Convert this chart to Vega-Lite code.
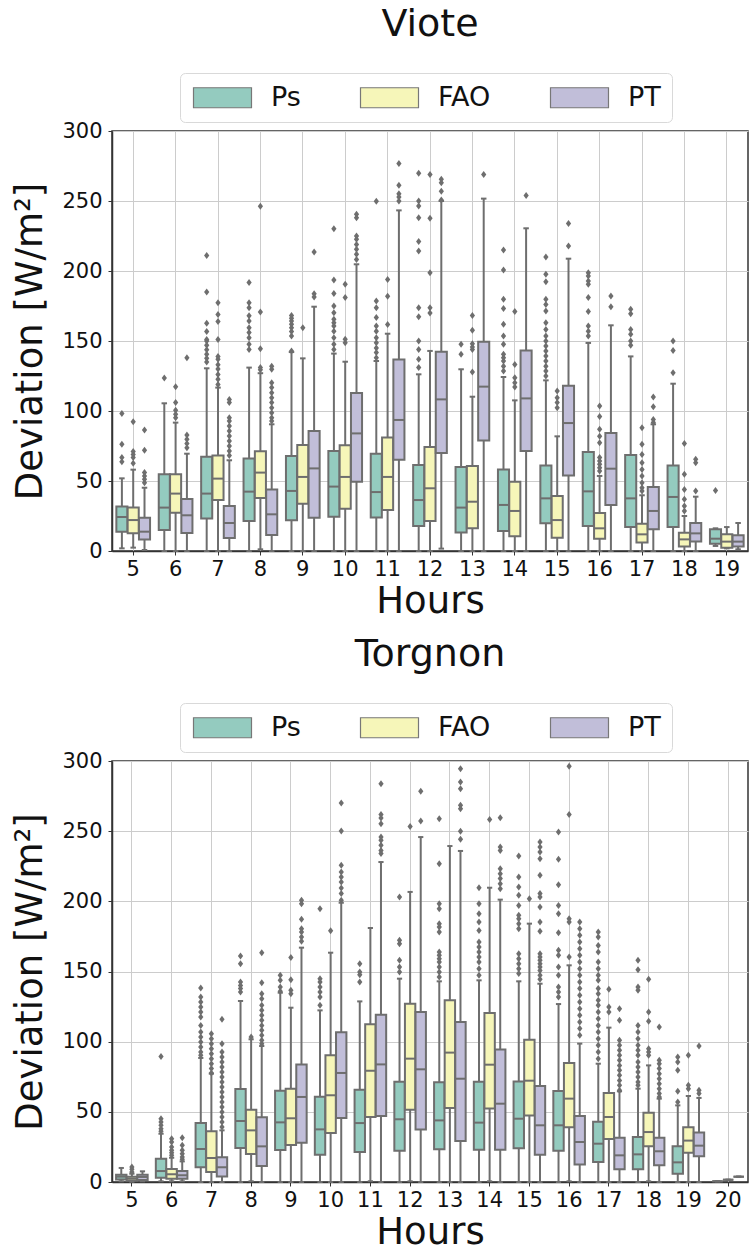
{
"$schema":"https://vega.github.io/schema/vega-lite/v6.json",
"padding":{"left":11,"top":4,"right":0,"bottom":0},
"config":{"font":"DejaVu Sans","view":{"stroke":"#333333","strokeWidth":1.5},
 "axis":{"gridColor":"#cccccc","gridWidth":1,"domainColor":"#333333","domainWidth":1.5,"tickColor":"#333333","tickSize":4,"labelFontSize":21,"labelColor":"#111111","titleFontSize":37,"titleFontWeight":"normal","titleColor":"#111111"},
 "title":{"fontSize":38,"fontWeight":"normal","color":"#111111"},
 "legend":{"orient":"none","direction":"horizontal","legendX":68,"legendY":-58,"fillColor":"white","strokeColor":"#d9d9d9","cornerRadius":5,"padding":11,"labelFontSize":27,"labelColor":"#111111","labelOffset":35,"symbolOffset":18,"columnPadding":57,"symbolType":"M-2.9,-1H2.9V1H-2.9Z","symbolSize":400,"symbolStrokeColor":"#777777","symbolStrokeWidth":1.2}},
"resolve":{"scale":{"fill":"independent","x":"independent","xOffset":"independent"},"legend":{"fill":"independent"}},
"spacing":14,
"datasets":{
"vb":[
{"h":5,"m":"Ps","lo":1.9,"q1":13.8,"md":24.3,"q3":31.7,"hi":51.9},{"h":5,"m":"FAO","lo":2.4,"q1":12.6,"md":22.1,"q3":31,"hi":58.1},{"h":5,"m":"PT","lo":0.7,"q1":8.3,"md":13.8,"q3":23.8,"hi":45.2},
{"h":6,"m":"Ps","lo":0,"q1":15,"md":31,"q3":54.8,"hi":105.5},{"h":6,"m":"FAO","lo":0,"q1":27.4,"md":41,"q3":54.8,"hi":91.7},{"h":6,"m":"PT","lo":0,"q1":12.9,"md":25.5,"q3":37.1,"hi":69.5},
{"h":7,"m":"Ps","lo":0,"q1":23.3,"md":41,"q3":67.4,"hi":130.5},{"h":7,"m":"FAO","lo":0,"q1":36.4,"md":51.7,"q3":68.3,"hi":116.7},{"h":7,"m":"PT","lo":0,"q1":9.3,"md":20,"q3":32.1,"hi":64.8},
{"h":8,"m":"Ps","lo":0,"q1":21.4,"md":42.4,"q3":66,"hi":131},{"h":8,"m":"FAO","lo":1.2,"q1":37.9,"md":56,"q3":71.2,"hi":127},{"h":8,"m":"PT","lo":0,"q1":11.4,"md":26.2,"q3":44,"hi":90.5},
{"h":9,"m":"Ps","lo":0,"q1":21.9,"md":42.9,"q3":67.9,"hi":142.1},{"h":9,"m":"FAO","lo":0,"q1":33.8,"md":52.9,"q3":75.7,"hi":137.6},{"h":9,"m":"PT","lo":0,"q1":23.8,"md":59,"q3":85.7,"hi":174.5},
{"h":10,"m":"Ps","lo":0,"q1":24.5,"md":46,"q3":71.4,"hi":141},{"h":10,"m":"FAO","lo":0,"q1":30.2,"md":52.9,"q3":75.5,"hi":135.2},{"h":10,"m":"PT","lo":0,"q1":49.5,"md":84,"q3":112.9,"hi":204.8},
{"h":11,"m":"Ps","lo":0,"q1":24,"md":42.1,"q3":69.5,"hi":135.7},{"h":11,"m":"FAO","lo":0,"q1":29.3,"md":52.9,"q3":81,"hi":155.2},{"h":11,"m":"PT","lo":0,"q1":65.2,"md":93.6,"q3":136.7,"hi":243.3},
{"h":12,"m":"Ps","lo":0,"q1":17.9,"md":36.4,"q3":61.4,"hi":126.2},{"h":12,"m":"FAO","lo":0,"q1":21.4,"md":44.8,"q3":74.3,"hi":142.9},{"h":12,"m":"PT","lo":1.7,"q1":70,"md":108.3,"q3":142.4,"hi":250},
{"h":13,"m":"Ps","lo":0,"q1":13.3,"md":31,"q3":60,"hi":129.8},{"h":13,"m":"FAO","lo":0,"q1":16.2,"md":35.2,"q3":60.7,"hi":110.2},{"h":13,"m":"PT","lo":0,"q1":79,"md":117.4,"q3":149.5,"hi":251.7},
{"h":14,"m":"Ps","lo":0,"q1":14.3,"md":32.9,"q3":58.3,"hi":124.3},{"h":14,"m":"FAO","lo":0,"q1":10.5,"md":28.6,"q3":49.5,"hi":107.6},{"h":14,"m":"PT","lo":0,"q1":71.4,"md":109,"q3":143.3,"hi":230.5},
{"h":15,"m":"Ps","lo":0,"q1":19.8,"md":37.6,"q3":61,"hi":121.9},{"h":15,"m":"FAO","lo":0,"q1":9.5,"md":22.1,"q3":39.3,"hi":81.9},{"h":15,"m":"PT","lo":0,"q1":54,"md":91.4,"q3":118.1,"hi":208.8},
{"h":16,"m":"Ps","lo":0,"q1":17.9,"md":42.6,"q3":70.7,"hi":148.6},{"h":16,"m":"FAO","lo":0,"q1":8.8,"md":16.2,"q3":27.1,"hi":53.6},{"h":16,"m":"PT","lo":0,"q1":32.9,"md":58.8,"q3":84.3,"hi":161.2},
{"h":17,"m":"Ps","lo":0,"q1":17.1,"md":37.6,"q3":68.6,"hi":139},{"h":17,"m":"FAO","lo":0,"q1":6,"md":11.9,"q3":19.5,"hi":39.8},{"h":17,"m":"PT","lo":0,"q1":15.5,"md":28.6,"q3":45.7,"hi":90.5},
{"h":18,"m":"Ps","lo":0,"q1":17.1,"md":38.6,"q3":61,"hi":119.5},{"h":18,"m":"FAO","lo":0,"q1":3.3,"md":8.3,"q3":13.1,"hi":25},{"h":18,"m":"PT","lo":0,"q1":6.7,"md":12.6,"q3":20,"hi":38.8},
{"h":19,"m":"Ps","lo":3.6,"q1":5.2,"md":8.8,"q3":15.5,"hi":16.2},{"h":19,"m":"FAO","lo":1.9,"q1":2.4,"md":6.7,"q3":11.9,"hi":17.1},{"h":19,"m":"PT","lo":1.2,"q1":3.3,"md":6.7,"q3":11.2,"hi":20}
],
"vo":[
{"h":5,"m":"Ps","v":98.3},{"h":5,"m":"Ps","v":76.2},{"h":5,"m":"Ps","v":66.7},{"h":5,"m":"Ps","v":63.8},
{"h":5,"m":"FAO","v":92.4},{"h":5,"m":"FAO","v":71},{"h":5,"m":"FAO","v":69},{"h":5,"m":"FAO","v":66.7},{"h":5,"m":"FAO","v":62.6},
{"h":5,"m":"PT","v":86.4},{"h":5,"m":"PT","v":71.9},{"h":5,"m":"PT","v":56},{"h":5,"m":"PT","v":53.6},{"h":5,"m":"PT","v":51.2},{"h":5,"m":"PT","v":48.8},
{"h":6,"m":"Ps","v":123.6},
{"h":6,"m":"FAO","v":117.4},{"h":6,"m":"FAO","v":106},{"h":6,"m":"FAO","v":100.5},{"h":6,"m":"FAO","v":97.6},{"h":6,"m":"FAO","v":95.2},
{"h":6,"m":"PT","v":138.1},{"h":6,"m":"PT","v":82.9},{"h":6,"m":"PT","v":79.8},{"h":6,"m":"PT","v":76.7},{"h":6,"m":"PT","v":73.8},
{"h":7,"m":"Ps","v":211},{"h":7,"m":"Ps","v":185},{"h":7,"m":"Ps","v":162.6},{"h":7,"m":"Ps","v":156.7},{"h":7,"m":"Ps","v":151},{"h":7,"m":"Ps","v":150},{"h":7,"m":"Ps","v":147},{"h":7,"m":"Ps","v":143.8},{"h":7,"m":"Ps","v":140.5},{"h":7,"m":"Ps","v":137.6},{"h":7,"m":"Ps","v":135},
{"h":7,"m":"FAO","v":177.4},{"h":7,"m":"FAO","v":169},{"h":7,"m":"FAO","v":164},{"h":7,"m":"FAO","v":151},{"h":7,"m":"FAO","v":139},{"h":7,"m":"FAO","v":137},{"h":7,"m":"FAO","v":133},{"h":7,"m":"FAO","v":130},{"h":7,"m":"FAO","v":126},{"h":7,"m":"FAO","v":122.6},{"h":7,"m":"FAO","v":119},
{"h":7,"m":"PT","v":108.3},{"h":7,"m":"PT","v":106},{"h":7,"m":"PT","v":95.2},{"h":7,"m":"PT","v":92.9},{"h":7,"m":"PT","v":89.3},{"h":7,"m":"PT","v":85.7},{"h":7,"m":"PT","v":82.1},{"h":7,"m":"PT","v":78.6},{"h":7,"m":"PT","v":75},{"h":7,"m":"PT","v":71.4},{"h":7,"m":"PT","v":68.3},
{"h":8,"m":"Ps","v":191.7},{"h":8,"m":"Ps","v":177.4},{"h":8,"m":"Ps","v":173.8},{"h":8,"m":"Ps","v":168},{"h":8,"m":"Ps","v":164.3},{"h":8,"m":"Ps","v":159.5},{"h":8,"m":"Ps","v":156},{"h":8,"m":"Ps","v":152.4},{"h":8,"m":"Ps","v":147.6},{"h":8,"m":"Ps","v":144},
{"h":8,"m":"FAO","v":246.2},{"h":8,"m":"FAO","v":170.7},{"h":8,"m":"FAO","v":144.5},{"h":8,"m":"FAO","v":131},{"h":8,"m":"FAO","v":129.5},
{"h":8,"m":"PT","v":131.9},{"h":8,"m":"PT","v":129.8},{"h":8,"m":"PT","v":120.2},{"h":8,"m":"PT","v":116.7},{"h":8,"m":"PT","v":113},{"h":8,"m":"PT","v":109.5},{"h":8,"m":"PT","v":106},{"h":8,"m":"PT","v":102.4},{"h":8,"m":"PT","v":98.8},{"h":8,"m":"PT","v":95.2},{"h":8,"m":"PT","v":92.9},
{"h":9,"m":"Ps","v":168.3},{"h":9,"m":"Ps","v":166.2},{"h":9,"m":"Ps","v":164.3},{"h":9,"m":"Ps","v":161.9},{"h":9,"m":"Ps","v":159.5},{"h":9,"m":"Ps","v":156.7},{"h":9,"m":"Ps","v":153.6},{"h":9,"m":"Ps","v":142.9},
{"h":9,"m":"FAO","v":159.5},
{"h":9,"m":"PT","v":213.6},{"h":9,"m":"PT","v":183.8},{"h":9,"m":"PT","v":181.4},
{"h":10,"m":"Ps","v":230.2},{"h":10,"m":"Ps","v":193.6},{"h":10,"m":"Ps","v":184},{"h":10,"m":"Ps","v":175},{"h":10,"m":"Ps","v":170.2},{"h":10,"m":"Ps","v":165.5},{"h":10,"m":"Ps","v":163},{"h":10,"m":"Ps","v":160.7},{"h":10,"m":"Ps","v":157},{"h":10,"m":"Ps","v":152.4},{"h":10,"m":"Ps","v":147.6},{"h":10,"m":"Ps","v":144},
{"h":10,"m":"FAO","v":190.5},{"h":10,"m":"FAO","v":181},{"h":10,"m":"FAO","v":151.2},{"h":10,"m":"FAO","v":148.8},
{"h":10,"m":"PT","v":240.5},{"h":10,"m":"PT","v":238},{"h":10,"m":"PT","v":225},{"h":10,"m":"PT","v":222.6},{"h":10,"m":"PT","v":219},{"h":10,"m":"PT","v":215.5},{"h":10,"m":"PT","v":212},{"h":10,"m":"PT","v":208.3},
{"h":11,"m":"Ps","v":249.8},{"h":11,"m":"Ps","v":178.6},{"h":11,"m":"Ps","v":173.8},{"h":11,"m":"Ps","v":166.7},{"h":11,"m":"Ps","v":160.7},{"h":11,"m":"Ps","v":157},{"h":11,"m":"Ps","v":152.4},{"h":11,"m":"Ps","v":148.8},{"h":11,"m":"Ps","v":145},{"h":11,"m":"Ps","v":141.7},{"h":11,"m":"Ps","v":138.1},
{"h":11,"m":"FAO","v":194},{"h":11,"m":"FAO","v":182},{"h":11,"m":"FAO","v":161.7},
{"h":11,"m":"PT","v":276.7},{"h":11,"m":"PT","v":261.2},{"h":11,"m":"PT","v":255.2},{"h":11,"m":"PT","v":252.9},{"h":11,"m":"PT","v":250},
{"h":12,"m":"Ps","v":269.8},{"h":12,"m":"Ps","v":250},{"h":12,"m":"Ps","v":246.4},{"h":12,"m":"Ps","v":238},{"h":12,"m":"Ps","v":221},{"h":12,"m":"Ps","v":214.3},{"h":12,"m":"Ps","v":173.8},{"h":12,"m":"Ps","v":167.4},{"h":12,"m":"Ps","v":150},{"h":12,"m":"Ps","v":144},{"h":12,"m":"Ps","v":137},{"h":12,"m":"Ps","v":131},
{"h":12,"m":"FAO","v":269},{"h":12,"m":"FAO","v":237.6},{"h":12,"m":"FAO","v":198.8},{"h":12,"m":"FAO","v":173.8},{"h":12,"m":"FAO","v":170},
{"h":12,"m":"PT","v":265.5},{"h":12,"m":"PT","v":263},{"h":12,"m":"PT","v":257},{"h":12,"m":"PT","v":250.7},
{"h":13,"m":"Ps","v":147.6},{"h":13,"m":"Ps","v":140.5},
{"h":13,"m":"FAO","v":168.3},{"h":13,"m":"FAO","v":157.6},{"h":13,"m":"FAO","v":148},{"h":13,"m":"FAO","v":145.7},{"h":13,"m":"FAO","v":144},{"h":13,"m":"FAO","v":127.9},
{"h":13,"m":"PT","v":269},
{"h":14,"m":"Ps","v":215},{"h":14,"m":"Ps","v":200.7},{"h":14,"m":"Ps","v":179.8},{"h":14,"m":"Ps","v":173.3},{"h":14,"m":"Ps","v":161.9},{"h":14,"m":"Ps","v":153.6},{"h":14,"m":"Ps","v":147.6},{"h":14,"m":"Ps","v":140.5},{"h":14,"m":"Ps","v":138},{"h":14,"m":"Ps","v":135.7},{"h":14,"m":"Ps","v":132},{"h":14,"m":"Ps","v":128.6},
{"h":14,"m":"FAO","v":171},{"h":14,"m":"FAO","v":133.3},{"h":14,"m":"FAO","v":123.8},{"h":14,"m":"FAO","v":120.2},{"h":14,"m":"FAO","v":117.1},
{"h":14,"m":"PT","v":254},
{"h":15,"m":"Ps","v":210},{"h":15,"m":"Ps","v":197.6},{"h":15,"m":"Ps","v":192.4},{"h":15,"m":"Ps","v":179.8},{"h":15,"m":"Ps","v":176},{"h":15,"m":"Ps","v":171.4},{"h":15,"m":"Ps","v":163},{"h":15,"m":"Ps","v":158.3},{"h":15,"m":"Ps","v":153.6},{"h":15,"m":"Ps","v":150},{"h":15,"m":"Ps","v":146.4},{"h":15,"m":"Ps","v":142.9},{"h":15,"m":"Ps","v":139.3},{"h":15,"m":"Ps","v":135.7},{"h":15,"m":"Ps","v":132},{"h":15,"m":"Ps","v":128.6},{"h":15,"m":"Ps","v":125},
{"h":15,"m":"FAO","v":114.3},{"h":15,"m":"FAO","v":109.5},{"h":15,"m":"FAO","v":106},{"h":15,"m":"FAO","v":102.4},
{"h":15,"m":"PT","v":234},{"h":15,"m":"PT","v":217.9},
{"h":16,"m":"Ps","v":198.8},{"h":16,"m":"Ps","v":196.4},{"h":16,"m":"Ps","v":192.9},{"h":16,"m":"Ps","v":190.5},{"h":16,"m":"Ps","v":181},{"h":16,"m":"Ps","v":171},{"h":16,"m":"Ps","v":160.7},{"h":16,"m":"Ps","v":157},{"h":16,"m":"Ps","v":153.6},
{"h":16,"m":"FAO","v":103.6},{"h":16,"m":"FAO","v":96},{"h":16,"m":"FAO","v":87},{"h":16,"m":"FAO","v":82},{"h":16,"m":"FAO","v":77.4},{"h":16,"m":"FAO","v":66.7},{"h":16,"m":"FAO","v":64.3},{"h":16,"m":"FAO","v":61.9},{"h":16,"m":"FAO","v":59.5},{"h":16,"m":"FAO","v":57.1},
{"h":16,"m":"PT","v":182.1},{"h":16,"m":"PT","v":174.5},
{"h":17,"m":"Ps","v":172.6},{"h":17,"m":"Ps","v":169.5},{"h":17,"m":"Ps","v":158.3},{"h":17,"m":"Ps","v":154.8},{"h":17,"m":"Ps","v":150},{"h":17,"m":"Ps","v":147},
{"h":17,"m":"FAO","v":88.1},{"h":17,"m":"FAO","v":76.2},{"h":17,"m":"FAO","v":69},{"h":17,"m":"FAO","v":63},{"h":17,"m":"FAO","v":58.3},{"h":17,"m":"FAO","v":53.6},{"h":17,"m":"FAO","v":48.8},{"h":17,"m":"FAO","v":45.2},{"h":17,"m":"FAO","v":42.9},
{"h":17,"m":"PT","v":110},{"h":17,"m":"PT","v":103.1},{"h":17,"m":"PT","v":94},{"h":17,"m":"PT","v":91.7},
{"h":18,"m":"Ps","v":150},{"h":18,"m":"Ps","v":143.3},{"h":18,"m":"Ps","v":127.4},
{"h":18,"m":"FAO","v":76.7},{"h":18,"m":"FAO","v":54.8},{"h":18,"m":"FAO","v":44},{"h":18,"m":"FAO","v":36.9},{"h":18,"m":"FAO","v":32.1},{"h":18,"m":"FAO","v":28.6},
{"h":18,"m":"PT","v":65.5},{"h":18,"m":"PT","v":63.1},{"h":18,"m":"PT","v":42.9},
{"h":19,"m":"Ps","v":43.3}
],
"tb":[
{"h":5,"m":"Ps","lo":0.5,"q1":1.7,"md":3.8,"q3":5.2,"hi":10},{"h":5,"m":"FAO","lo":0.2,"q1":1,"md":2.4,"q3":3.8,"hi":5.9},{"h":5,"m":"PT","lo":0.5,"q1":1.4,"md":3.6,"q3":5.2,"hi":7.6},
{"h":6,"m":"Ps","lo":0.5,"q1":3.1,"md":7.8,"q3":16.6,"hi":34.4},{"h":6,"m":"FAO","lo":0.5,"q1":2.4,"md":5.5,"q3":9.3,"hi":17.3},{"h":6,"m":"PT","lo":0.5,"q1":2.4,"md":4.8,"q3":7.8,"hi":14.7},
{"h":7,"m":"Ps","lo":0,"q1":10.5,"md":23.5,"q3":42,"hi":88.4},{"h":7,"m":"FAO","lo":0,"q1":7.1,"md":17.1,"q3":36.1,"hi":77.2},{"h":7,"m":"PT","lo":0,"q1":4,"md":10.5,"q3":17.6,"hi":36.8},
{"h":8,"m":"Ps","lo":0,"q1":24.2,"md":43.5,"q3":66.3,"hi":129},{"h":8,"m":"FAO","lo":0.5,"q1":20,"md":36.8,"q3":51.5,"hi":101.7},{"h":8,"m":"PT","lo":0,"q1":11.4,"md":25.4,"q3":46.1,"hi":96.9},
{"h":9,"m":"Ps","lo":0,"q1":22.8,"md":42.5,"q3":65.1,"hi":134.9},{"h":9,"m":"FAO","lo":0,"q1":26.4,"md":45.4,"q3":66.5,"hi":124.2},{"h":9,"m":"PT","lo":0,"q1":28,"md":60.6,"q3":83.8,"hi":167},
{"h":10,"m":"Ps","lo":0,"q1":19.5,"md":37.5,"q3":60.8,"hi":122.3},{"h":10,"m":"FAO","lo":0,"q1":34.9,"md":61.8,"q3":90.3,"hi":163.4},{"h":10,"m":"PT","lo":0,"q1":45.6,"md":77.7,"q3":106.7,"hi":199},
{"h":11,"m":"Ps","lo":0,"q1":21.4,"md":42,"q3":65.8,"hi":128.7},{"h":11,"m":"FAO","lo":0.5,"q1":46.3,"md":79.3,"q3":112.4,"hi":181},{"h":11,"m":"PT","lo":0,"q1":47,"md":83.8,"q3":119.2,"hi":228},
{"h":12,"m":"Ps","lo":0,"q1":22.3,"md":44.7,"q3":71.5,"hi":144.9},{"h":12,"m":"FAO","lo":0.5,"q1":51.5,"md":87.9,"q3":127.1,"hi":206.7},{"h":12,"m":"PT","lo":0,"q1":37.5,"md":80.3,"q3":121.1,"hi":245.8},
{"h":13,"m":"Ps","lo":0,"q1":23.3,"md":43.9,"q3":71,"hi":143},{"h":13,"m":"FAO","lo":0,"q1":52.7,"md":92.2,"q3":129.5,"hi":239.4},{"h":13,"m":"PT","lo":0,"q1":29.2,"md":73.6,"q3":114,"hi":235.9},
{"h":14,"m":"Ps","lo":0,"q1":23,"md":42.3,"q3":71.5,"hi":143.7},{"h":14,"m":"FAO","lo":0.5,"q1":52.3,"md":83.6,"q3":120.4,"hi":209.7},{"h":14,"m":"PT","lo":0,"q1":23,"md":55.8,"q3":94.5,"hi":201.2},
{"h":15,"m":"Ps","lo":0,"q1":24,"md":45.1,"q3":71.7,"hi":143},{"h":15,"m":"FAO","lo":0,"q1":47.3,"md":72.2,"q3":101.4,"hi":184.1},{"h":15,"m":"PT","lo":0,"q1":19.5,"md":40.4,"q3":68.4,"hi":141.3},
{"h":16,"m":"Ps","lo":0,"q1":22.3,"md":40.4,"q3":64.8,"hi":126.8},{"h":16,"m":"FAO","lo":0.5,"q1":39,"md":59.4,"q3":84.8,"hi":154.4},{"h":16,"m":"PT","lo":0,"q1":12.4,"md":28.5,"q3":47,"hi":98.6},
{"h":17,"m":"Ps","lo":0,"q1":14.3,"md":27.3,"q3":43,"hi":84.3},{"h":17,"m":"FAO","lo":0,"q1":30.6,"md":46.3,"q3":63.4,"hi":110},{"h":17,"m":"PT","lo":0,"q1":9,"md":19,"q3":31.6,"hi":64.6},
{"h":18,"m":"Ps","lo":0,"q1":9,"md":19.7,"q3":32.1,"hi":66.5},{"h":18,"m":"FAO","lo":0.5,"q1":25.4,"md":35.6,"q3":49.4,"hi":83.1},{"h":18,"m":"PT","lo":0,"q1":11.9,"md":21.9,"q3":31.6,"hi":59.4},
{"h":19,"m":"Ps","lo":0,"q1":5.9,"md":14,"q3":25.4,"hi":54.6},{"h":19,"m":"FAO","lo":0,"q1":20.9,"md":29.5,"q3":39,"hi":61.3},{"h":19,"m":"PT","lo":0,"q1":18.3,"md":25.9,"q3":35.2,"hi":59.9},
{"h":20,"m":"Ps","lo":0.5,"q1":0.5,"md":0.5,"q3":0.5,"hi":0.5},{"h":20,"m":"FAO","lo":1.6,"q1":1.6,"md":1.6,"q3":1.6,"hi":1.6},{"h":20,"m":"PT","lo":3.8,"q1":3.8,"md":3.8,"q3":3.8,"hi":3.8}
],
"to":[
{"h":5,"m":"FAO","v":10.7},{"h":5,"m":"FAO","v":9},{"h":5,"m":"FAO","v":7.1},
{"h":6,"m":"Ps","v":89.5},{"h":6,"m":"Ps","v":45.1},{"h":6,"m":"Ps","v":42.8},{"h":6,"m":"Ps","v":40.4},{"h":6,"m":"Ps","v":38},{"h":6,"m":"Ps","v":36.1},
{"h":6,"m":"FAO","v":30.9},{"h":6,"m":"FAO","v":28.5},{"h":6,"m":"FAO","v":24.9},{"h":6,"m":"FAO","v":22.6},{"h":6,"m":"FAO","v":20.9},{"h":6,"m":"FAO","v":19},
{"h":6,"m":"PT","v":31.6},{"h":6,"m":"PT","v":26.1},{"h":6,"m":"PT","v":22.6},{"h":6,"m":"PT","v":20.2},{"h":6,"m":"PT","v":17.8},{"h":6,"m":"PT","v":16.2},
{"h":7,"m":"Ps","v":138.2},{"h":7,"m":"Ps","v":131.8},{"h":7,"m":"Ps","v":128.3},{"h":7,"m":"Ps","v":124.7},{"h":7,"m":"Ps","v":121.1},{"h":7,"m":"Ps","v":117.6},{"h":7,"m":"Ps","v":111.6},{"h":7,"m":"Ps","v":106.9},{"h":7,"m":"Ps","v":103.3},{"h":7,"m":"Ps","v":99.8},{"h":7,"m":"Ps","v":96.2},{"h":7,"m":"Ps","v":92.6},{"h":7,"m":"Ps","v":90.3},
{"h":7,"m":"FAO","v":105.7},{"h":7,"m":"FAO","v":102.1},{"h":7,"m":"FAO","v":98.6},{"h":7,"m":"FAO","v":95},{"h":7,"m":"FAO","v":91.4},{"h":7,"m":"FAO","v":87.9},{"h":7,"m":"FAO","v":84.3},{"h":7,"m":"FAO","v":80.8},{"h":7,"m":"FAO","v":77.7},
{"h":7,"m":"PT","v":115.9},{"h":7,"m":"PT","v":98.6},{"h":7,"m":"PT","v":92.6},{"h":7,"m":"PT","v":89.1},{"h":7,"m":"PT","v":85.5},{"h":7,"m":"PT","v":81.9},{"h":7,"m":"PT","v":78.4},{"h":7,"m":"PT","v":74.8},{"h":7,"m":"PT","v":71.3},{"h":7,"m":"PT","v":67.7},{"h":7,"m":"PT","v":64.1},{"h":7,"m":"PT","v":60.6},{"h":7,"m":"PT","v":57},{"h":7,"m":"PT","v":53.4},{"h":7,"m":"PT","v":49.9},{"h":7,"m":"PT","v":46.3},{"h":7,"m":"PT","v":42.8},{"h":7,"m":"PT","v":39.2},
{"h":8,"m":"Ps","v":161},{"h":8,"m":"Ps","v":155.6},{"h":8,"m":"Ps","v":142.5},{"h":8,"m":"Ps","v":140.1},{"h":8,"m":"Ps","v":137.8},{"h":8,"m":"Ps","v":135.4},
{"h":8,"m":"FAO","v":103.3},
{"h":8,"m":"PT","v":163.4},{"h":8,"m":"PT","v":142},{"h":8,"m":"PT","v":134.2},{"h":8,"m":"PT","v":130.6},{"h":8,"m":"PT","v":125.9},{"h":8,"m":"PT","v":122.3},{"h":8,"m":"PT","v":118.8},{"h":8,"m":"PT","v":115.2},{"h":8,"m":"PT","v":111.6},{"h":8,"m":"PT","v":108.1},{"h":8,"m":"PT","v":104.5},{"h":8,"m":"PT","v":101},{"h":8,"m":"PT","v":98.6},
{"h":9,"m":"Ps","v":147.3},{"h":9,"m":"Ps","v":143.7},{"h":9,"m":"Ps","v":139},{"h":9,"m":"Ps","v":136},
{"h":9,"m":"FAO","v":159.9},{"h":9,"m":"FAO","v":144.2},{"h":9,"m":"FAO","v":136.6},{"h":9,"m":"FAO","v":134.2},
{"h":9,"m":"PT","v":200.7},{"h":9,"m":"PT","v":198.3},{"h":9,"m":"PT","v":187.2},{"h":9,"m":"PT","v":180.5},{"h":9,"m":"PT","v":178.1},{"h":9,"m":"PT","v":174.6},{"h":9,"m":"PT","v":171.5},
{"h":10,"m":"Ps","v":194.8},{"h":10,"m":"Ps","v":144.9},{"h":10,"m":"Ps","v":142.5},{"h":10,"m":"Ps","v":139},{"h":10,"m":"Ps","v":135.4},{"h":10,"m":"Ps","v":131.8},{"h":10,"m":"Ps","v":125.9},
{"h":10,"m":"FAO","v":179.1},
{"h":10,"m":"PT","v":270.1},{"h":10,"m":"PT","v":250.1},{"h":10,"m":"PT","v":225.7},{"h":10,"m":"PT","v":220.9},{"h":10,"m":"PT","v":217.3},{"h":10,"m":"PT","v":213.8},{"h":10,"m":"PT","v":209.5},{"h":10,"m":"PT","v":205.5},{"h":10,"m":"PT","v":200.7},
{"h":11,"m":"Ps","v":155.6},{"h":11,"m":"Ps","v":149.6},{"h":11,"m":"Ps","v":147.7},{"h":11,"m":"Ps","v":142.5},
{"h":11,"m":"PT","v":283.8},{"h":11,"m":"PT","v":261.8},{"h":11,"m":"PT","v":259.4},{"h":11,"m":"PT","v":255.3},{"h":11,"m":"PT","v":245.8},{"h":11,"m":"PT","v":243.5},{"h":11,"m":"PT","v":239.9},{"h":11,"m":"PT","v":236.3},{"h":11,"m":"PT","v":234},
{"h":12,"m":"Ps","v":203.1},{"h":12,"m":"Ps","v":172.2},{"h":12,"m":"Ps","v":169.8},{"h":12,"m":"Ps","v":158},{"h":12,"m":"Ps","v":153.2},{"h":12,"m":"Ps","v":149.6},
{"h":12,"m":"FAO","v":253.4},
{"h":12,"m":"PT","v":278.4},{"h":12,"m":"PT","v":257.2},
{"h":13,"m":"Ps","v":258.9},{"h":13,"m":"Ps","v":226.8},{"h":13,"m":"Ps","v":198.3},{"h":13,"m":"Ps","v":194.8},{"h":13,"m":"Ps","v":184.1},{"h":13,"m":"Ps","v":181.7},{"h":13,"m":"Ps","v":178.1},{"h":13,"m":"Ps","v":163.9},{"h":13,"m":"Ps","v":161.5},{"h":13,"m":"Ps","v":159.1},{"h":13,"m":"Ps","v":156.8},{"h":13,"m":"Ps","v":153.2},{"h":13,"m":"Ps","v":149.6},{"h":13,"m":"Ps","v":146},
{"h":13,"m":"PT","v":294.5},{"h":13,"m":"PT","v":285},{"h":13,"m":"PT","v":280.3},{"h":13,"m":"PT","v":268.4},{"h":13,"m":"PT","v":266},{"h":13,"m":"PT","v":249.9},{"h":13,"m":"PT","v":244.2},
{"h":14,"m":"Ps","v":209.7},{"h":14,"m":"Ps","v":198.3},{"h":14,"m":"Ps","v":191.2},{"h":14,"m":"Ps","v":185.3},{"h":14,"m":"Ps","v":179.3},{"h":14,"m":"Ps","v":171},{"h":14,"m":"Ps","v":167.5},{"h":14,"m":"Ps","v":163.9},{"h":14,"m":"Ps","v":160.3},{"h":14,"m":"Ps","v":156.8},{"h":14,"m":"Ps","v":152},{"h":14,"m":"Ps","v":147.3},
{"h":14,"m":"FAO","v":258.4},
{"h":14,"m":"PT","v":259.6},{"h":14,"m":"PT","v":238.7},{"h":14,"m":"PT","v":236.3},{"h":14,"m":"PT","v":223.3},{"h":14,"m":"PT","v":219.7},{"h":14,"m":"PT","v":216.2},{"h":14,"m":"PT","v":212.6},{"h":14,"m":"PT","v":209},
{"h":15,"m":"Ps","v":232.3},{"h":15,"m":"Ps","v":217.3},{"h":15,"m":"Ps","v":210.2},{"h":15,"m":"Ps","v":204.3},{"h":15,"m":"Ps","v":197.1},{"h":15,"m":"Ps","v":190},{"h":15,"m":"Ps","v":187.6},{"h":15,"m":"Ps","v":184.1},{"h":15,"m":"Ps","v":180.5},{"h":15,"m":"Ps","v":162.7},{"h":15,"m":"Ps","v":159.1},{"h":15,"m":"Ps","v":155.6},{"h":15,"m":"Ps","v":152},{"h":15,"m":"Ps","v":148.5},
{"h":15,"m":"FAO","v":201.9},
{"h":15,"m":"PT","v":242.3},{"h":15,"m":"PT","v":238.7},{"h":15,"m":"PT","v":235.2},{"h":15,"m":"PT","v":230.4},{"h":15,"m":"PT","v":218.5},{"h":15,"m":"PT","v":205.5},{"h":15,"m":"PT","v":203.1},{"h":15,"m":"PT","v":196},{"h":15,"m":"PT","v":185.3},{"h":15,"m":"PT","v":178.6},{"h":15,"m":"PT","v":162.7},{"h":15,"m":"PT","v":160.3},{"h":15,"m":"PT","v":158},{"h":15,"m":"PT","v":155.6},{"h":15,"m":"PT","v":153.2},{"h":15,"m":"PT","v":150.8},{"h":15,"m":"PT","v":147.3},{"h":15,"m":"PT","v":144.4},
{"h":16,"m":"Ps","v":249.4},{"h":16,"m":"Ps","v":229.9},{"h":16,"m":"Ps","v":211.9},{"h":16,"m":"Ps","v":197.1},{"h":16,"m":"Ps","v":191.2},{"h":16,"m":"Ps","v":177.7},{"h":16,"m":"Ps","v":165.1},{"h":16,"m":"Ps","v":161.5},{"h":16,"m":"Ps","v":153.2},{"h":16,"m":"Ps","v":147.3},{"h":16,"m":"Ps","v":139},{"h":16,"m":"Ps","v":135.4},{"h":16,"m":"Ps","v":131.8},
{"h":16,"m":"FAO","v":296.2},{"h":16,"m":"FAO","v":261.8},{"h":16,"m":"FAO","v":187.6},{"h":16,"m":"FAO","v":185.3},{"h":16,"m":"FAO","v":160.3},
{"h":16,"m":"PT","v":185.3},{"h":16,"m":"PT","v":180.5},{"h":16,"m":"PT","v":175.8},{"h":16,"m":"PT","v":171},{"h":16,"m":"PT","v":166.3},{"h":16,"m":"PT","v":161.5},{"h":16,"m":"PT","v":156.8},{"h":16,"m":"PT","v":152},{"h":16,"m":"PT","v":147.3},{"h":16,"m":"PT","v":142.5},{"h":16,"m":"PT","v":137.8},{"h":16,"m":"PT","v":133},{"h":16,"m":"PT","v":128.3},{"h":16,"m":"PT","v":123.5},{"h":16,"m":"PT","v":118.8},{"h":16,"m":"PT","v":114},{"h":16,"m":"PT","v":109.3},{"h":16,"m":"PT","v":104.5},
{"h":17,"m":"Ps","v":178.1},{"h":17,"m":"Ps","v":174.6},{"h":17,"m":"Ps","v":168.6},{"h":17,"m":"Ps","v":163.9},{"h":17,"m":"Ps","v":156.8},{"h":17,"m":"Ps","v":152},{"h":17,"m":"Ps","v":147.3},{"h":17,"m":"Ps","v":143.7},{"h":17,"m":"Ps","v":137.8},{"h":17,"m":"Ps","v":134.2},{"h":17,"m":"Ps","v":129.5},{"h":17,"m":"Ps","v":125.9},{"h":17,"m":"Ps","v":121.1},{"h":17,"m":"Ps","v":116.4},{"h":17,"m":"Ps","v":111.6},{"h":17,"m":"Ps","v":106.9},{"h":17,"m":"Ps","v":102.1},{"h":17,"m":"Ps","v":97.4},{"h":17,"m":"Ps","v":92.6},{"h":17,"m":"Ps","v":87.9},
{"h":17,"m":"FAO","v":137.3},{"h":17,"m":"FAO","v":124.7},{"h":17,"m":"FAO","v":121.1},
{"h":17,"m":"PT","v":123.5},{"h":17,"m":"PT","v":115.2},{"h":17,"m":"PT","v":101},{"h":17,"m":"PT","v":97.4},{"h":17,"m":"PT","v":93.8},{"h":17,"m":"PT","v":90.3},{"h":17,"m":"PT","v":86.7},{"h":17,"m":"PT","v":83.1},{"h":17,"m":"PT","v":79.6},{"h":17,"m":"PT","v":76},{"h":17,"m":"PT","v":72.4},{"h":17,"m":"PT","v":68.9},{"h":17,"m":"PT","v":65.3},
{"h":18,"m":"Ps","v":158},{"h":18,"m":"Ps","v":151.3},{"h":18,"m":"Ps","v":139},{"h":18,"m":"Ps","v":136.6},{"h":18,"m":"Ps","v":111.6},{"h":18,"m":"Ps","v":106.9},{"h":18,"m":"Ps","v":102.1},{"h":18,"m":"Ps","v":97.4},{"h":18,"m":"Ps","v":93.8},{"h":18,"m":"Ps","v":90.3},{"h":18,"m":"Ps","v":85.5},{"h":18,"m":"Ps","v":81.9},{"h":18,"m":"Ps","v":78.4},{"h":18,"m":"Ps","v":74.8},{"h":18,"m":"Ps","v":71.3},{"h":18,"m":"Ps","v":68.9},
{"h":18,"m":"FAO","v":144.4},{"h":18,"m":"FAO","v":121.1},{"h":18,"m":"FAO","v":114.5},{"h":18,"m":"FAO","v":95},{"h":18,"m":"FAO","v":92.6},{"h":18,"m":"FAO","v":90.3},
{"h":18,"m":"PT","v":110.5},{"h":18,"m":"PT","v":86.7},{"h":18,"m":"PT","v":84.3},{"h":18,"m":"PT","v":80.8},{"h":18,"m":"PT","v":77.2},{"h":18,"m":"PT","v":73.6},{"h":18,"m":"PT","v":70.1},{"h":18,"m":"PT","v":66.5},{"h":18,"m":"PT","v":63},{"h":18,"m":"PT","v":60.6},
{"h":19,"m":"Ps","v":89.1},{"h":19,"m":"Ps","v":85.5},{"h":19,"m":"Ps","v":79.6},{"h":19,"m":"Ps","v":64.6},{"h":19,"m":"Ps","v":57},
{"h":19,"m":"FAO","v":90.3},{"h":19,"m":"FAO","v":68.9},{"h":19,"m":"FAO","v":66.5},
{"h":19,"m":"PT","v":96.9},{"h":19,"m":"PT","v":65.3},{"h":19,"m":"PT","v":63}
]},
"vconcat":[
{"width":636,"height":420,
 "title":{"text":"Viote","offset":29},
 "encoding":{
  "x":{"field":"h","type":"ordinal","title":"Hours","scale":{"domain":[5,6,7,8,9,10,11,12,13,14,15,16,17,18,19],"paddingInner":0,"paddingOuter":0},"axis":{"labelAngle":0,"bandPosition":0.5,"grid":true,"labelPadding":3,"titlePadding":4}},
  "xOffset":{"field":"m","type":"nominal","scale":{"domain":["Ps","FAO","PT"],"paddingInner":0.02,"paddingOuter":0.385}}},
 "layer":[
  {"data":{"name":"vb"},"mark":{"type":"rule","color":"#6e6e6e","strokeWidth":2},
   "encoding":{"y":{"field":"lo","type":"quantitative","title":"Deviation [W/m²]","scale":{"domain":[0,300],"nice":false},"axis":{"values":[0,50,100,150,200,250,300],"grid":true,"labelPadding":6,"titlePadding":12}},"y2":{"field":"hi"}}},
  {"data":{"name":"vb"},"mark":{"type":"bar","stroke":"#6e6e6e","strokeWidth":2,"opacity":1},
   "encoding":{"y":{"field":"q1","type":"quantitative","title":"Deviation [W/m²]","scale":{"domain":[0,300],"nice":false}},"y2":{"field":"q3"},
    "fill":{"field":"m","type":"nominal","scale":{"domain":["Ps","FAO","PT"],"range":["#94cbbf","#f6f6b9","#c1bed9"]},"legend":{"title":null}}}},
  {"data":{"name":"vb"},"mark":{"type":"tick","color":"#6e6e6e","thickness":2,"size":11,"opacity":1},
   "encoding":{"y":{"field":"md","type":"quantitative","title":"Deviation [W/m²]","scale":{"domain":[0,300],"nice":false}}}},
  {"data":{"name":"vb"},"mark":{"type":"tick","color":"#6e6e6e","thickness":2,"size":5.5,"opacity":1},
   "encoding":{"y":{"field":"hi","type":"quantitative","title":"Deviation [W/m²]","scale":{"domain":[0,300],"nice":false}}}},
  {"data":{"name":"vb"},"mark":{"type":"tick","color":"#6e6e6e","thickness":2,"size":5.5,"opacity":1},
   "encoding":{"y":{"field":"lo","type":"quantitative","title":"Deviation [W/m²]","scale":{"domain":[0,300],"nice":false}}}},
  {"data":{"name":"vo"},"mark":{"type":"point","shape":"M0,-1L0.75,0L0,1L-0.75,0Z","size":49,"filled":true,"color":"#6e6e6e","opacity":1},
   "encoding":{"y":{"field":"v","type":"quantitative","title":"Deviation [W/m²]","scale":{"domain":[0,300],"nice":false}}}}
 ]},
{"width":636,"height":421,
 "title":{"text":"Torgnon","offset":29},
 "encoding":{
  "x":{"field":"h","type":"ordinal","title":"Hours","scale":{"domain":[5,6,7,8,9,10,11,12,13,14,15,16,17,18,19,20],"paddingInner":0,"paddingOuter":0},"axis":{"labelAngle":0,"bandPosition":0.5,"grid":true,"labelPadding":3,"titlePadding":4}},
  "xOffset":{"field":"m","type":"nominal","scale":{"domain":["Ps","FAO","PT"],"paddingInner":0.02,"paddingOuter":0.385}}},
 "layer":[
  {"data":{"name":"tb"},"mark":{"type":"rule","color":"#6e6e6e","strokeWidth":2},
   "encoding":{"y":{"field":"lo","type":"quantitative","title":"Deviation [W/m²]","scale":{"domain":[0,300],"nice":false},"axis":{"values":[0,50,100,150,200,250,300],"grid":true,"labelPadding":6,"titlePadding":12}},"y2":{"field":"hi"}}},
  {"data":{"name":"tb"},"mark":{"type":"bar","stroke":"#6e6e6e","strokeWidth":2,"opacity":1},
   "encoding":{"y":{"field":"q1","type":"quantitative","title":"Deviation [W/m²]","scale":{"domain":[0,300],"nice":false}},"y2":{"field":"q3"},
    "fill":{"field":"m","type":"nominal","scale":{"domain":["Ps","FAO","PT"],"range":["#94cbbf","#f6f6b9","#c1bed9"]},"legend":{"title":null}}}},
  {"data":{"name":"tb"},"mark":{"type":"tick","color":"#6e6e6e","thickness":2,"size":10.4,"opacity":1},
   "encoding":{"y":{"field":"md","type":"quantitative","title":"Deviation [W/m²]","scale":{"domain":[0,300],"nice":false}}}},
  {"data":{"name":"tb"},"mark":{"type":"tick","color":"#6e6e6e","thickness":2,"size":5.2,"opacity":1},
   "encoding":{"y":{"field":"hi","type":"quantitative","title":"Deviation [W/m²]","scale":{"domain":[0,300],"nice":false}}}},
  {"data":{"name":"tb"},"mark":{"type":"tick","color":"#6e6e6e","thickness":2,"size":5.2,"opacity":1},
   "encoding":{"y":{"field":"lo","type":"quantitative","title":"Deviation [W/m²]","scale":{"domain":[0,300],"nice":false}}}},
  {"data":{"name":"to"},"mark":{"type":"point","shape":"M0,-1L0.75,0L0,1L-0.75,0Z","size":49,"filled":true,"color":"#6e6e6e","opacity":1},
   "encoding":{"y":{"field":"v","type":"quantitative","title":"Deviation [W/m²]","scale":{"domain":[0,300],"nice":false}}}}
 ]}
]
}
